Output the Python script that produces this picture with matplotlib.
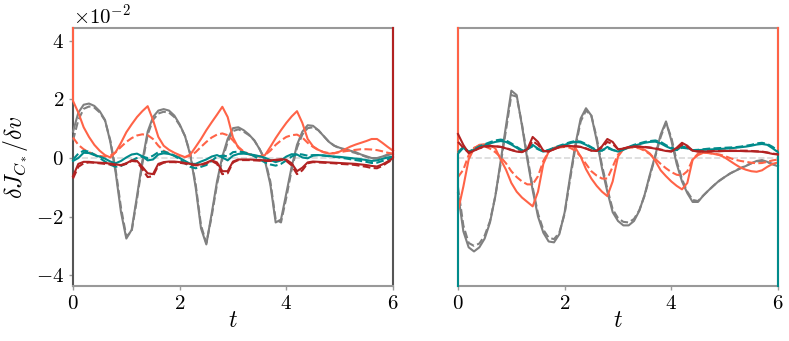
import numpy as np
import matplotlib
matplotlib.use("Agg")
import matplotlib.pyplot as plt
from matplotlib.ticker import ScalarFormatter

plt.rcParams['font.family'] = 'serif'
plt.rcParams['font.serif'] = ['cmr10', 'DejaVu Serif']
plt.rcParams['mathtext.fontset'] = 'cm'
plt.rcParams['axes.formatter.use_mathtext'] = True
plt.rcParams['axes.unicode_minus'] = True

# time grid (t = 0 .. 6, step 0.1)
T = np.linspace(0, 6, 61)
SCALE = 1e-2  # values below are in units of 1e-2

# ---------------- left panel ----------------
gray_L_solid = [0.9, 1.55, 1.82, 1.86, 1.78, 1.6, 1.3, 0.55, -0.5, -1.85,
                -2.75, -2.45, -1.3, -0.1, 0.9, 1.4, 1.62, 1.67, 1.62, 1.45,
                1.15, 0.75, 0.1, -1.0, -2.4, -2.95, -1.9, -0.8, 0.05, 0.65,
                1.02, 1.05, 0.95, 0.8, 0.6, 0.3, -0.1, -0.9, -2.2, -2.1,
                -1.2, -0.3, 0.45, 0.9, 1.12, 1.1, 0.95, 0.75, 0.55, 0.42,
                0.35, 0.3, 0.25, 0.2, 0.12, 0.06, 0.0, 0.0, 0.05, 0.12, 0.15]
gray_L_dash = [0.6, 1.3, 1.68, 1.76, 1.72, 1.56, 1.28, 0.6, -0.4, -1.7,
               -2.68, -2.5, -1.4, -0.2, 0.8, 1.3, 1.52, 1.58, 1.55, 1.4,
               1.12, 0.75, 0.15, -0.9, -2.3, -2.9, -2.0, -0.9, -0.05, 0.55,
               0.92, 0.98, 0.9, 0.78, 0.6, 0.3, -0.05, -0.8, -2.1, -2.2,
               -1.35, -0.4, 0.35, 0.8, 1.02, 1.05, 0.95, 0.75, 0.55, 0.42,
               0.33, 0.27, 0.22, 0.17, 0.1, 0.04, -0.02, -0.02, 0.03, 0.1, 0.15]
coral_L_solid = [1.95, 1.55, 1.05, 0.72, 0.45, 0.25, 0.1, 0.02, 0.2, 0.52,
                 0.88, 1.15, 1.4, 1.6, 1.77, 1.3, 0.72, 0.42, 0.28, 0.18,
                 0.1, 0.03, 0.12, 0.38, 0.65, 0.95, 1.22, 1.48, 1.75, 1.4,
                 0.7, 0.35, 0.2, 0.13, 0.08, 0.05, 0.1, 0.38, 0.68, 0.95,
                 1.2, 1.42, 1.6, 1.2, 0.65, 0.4, 0.28, 0.2, 0.15, 0.16,
                 0.22, 0.3, 0.39, 0.46, 0.52, 0.58, 0.65, 0.65, 0.52, 0.38, 0.25]
coral_L_dash = [0.7, 0.45, 0.3, 0.2, 0.12, 0.07, 0.05, 0.08, 0.2, 0.38,
                0.55, 0.68, 0.77, 0.81, 0.78, 0.65, 0.42, 0.25, 0.15, 0.08,
                0.04, 0.03, 0.08, 0.2, 0.38, 0.55, 0.7, 0.8, 0.84, 0.78,
                0.6, 0.38, 0.22, 0.13, 0.08, 0.06, 0.1, 0.25, 0.45, 0.6,
                0.72, 0.78, 0.8, 0.7, 0.52, 0.38, 0.27, 0.2, 0.17, 0.17,
                0.2, 0.23, 0.26, 0.28, 0.3, 0.3, 0.29, 0.27, 0.23, 0.18, 0.15]
teal_L_solid = [-0.1, 0.0, 0.18, 0.17, 0.1, 0.05, -0.02, -0.12, -0.18, -0.1,
                0.02, 0.12, 0.15, 0.06, -0.08, -0.05, 0.12, 0.16, 0.14, 0.08,
                0.0, -0.1, -0.2, -0.2, -0.12, -0.05, 0.05, 0.1, 0.02, -0.08,
                0.08, 0.14, 0.15, 0.13, 0.1, 0.06, 0.01, -0.07, -0.14, -0.08,
                0.05, 0.13, 0.12, 0.02, -0.01, 0.08, 0.1, 0.09, 0.07, 0.05,
                0.04, 0.02, 0.0, -0.02, -0.04, -0.07, -0.1, -0.08, -0.03, 0.02, 0.05]
teal_L_dash = [-0.05, 0.15, 0.25, 0.22, 0.12, 0.0, -0.12, -0.23, -0.3, -0.27,
               -0.18, -0.08, 0.0, 0.05, 0.0, 0.08, 0.2, 0.22, 0.17, 0.08,
               -0.05, -0.18, -0.3, -0.35, -0.3, -0.24, -0.1, 0.05, 0.08, 0.06,
               0.2, 0.22, 0.2, 0.15, 0.06, -0.05, -0.15, -0.22, -0.26, -0.2,
               -0.08, 0.05, 0.14, 0.12, 0.08, 0.1, 0.1, 0.08, 0.06, 0.04,
               0.02, -0.01, -0.04, -0.07, -0.1, -0.13, -0.17, -0.16, -0.1, -0.04, 0.0]
red_L_solid = [-0.62, -0.2, -0.13, -0.13, -0.15, -0.16, -0.17, -0.19, -0.22, -0.24,
               -0.18, -0.08, -0.1, -0.3, -0.52, -0.55, -0.2, -0.14, -0.12, -0.12,
               -0.14, -0.17, -0.2, -0.23, -0.22, -0.16, -0.08, -0.15, -0.45, -0.45,
               -0.12, -0.05, -0.05, -0.05, -0.06, -0.07, -0.08, -0.08, -0.06, -0.04,
               -0.06, -0.18, -0.45, -0.33, -0.15, -0.12, -0.13, -0.14, -0.15, -0.16,
               -0.17, -0.18, -0.19, -0.2, -0.22, -0.24, -0.27, -0.29, -0.22, -0.12, -0.01]
red_L_dash = [-0.7, -0.3, -0.18, -0.15, -0.16, -0.18, -0.2, -0.22, -0.24, -0.25,
              -0.2, -0.1, -0.12, -0.38, -0.65, -0.62, -0.25, -0.16, -0.14, -0.14,
              -0.16, -0.19, -0.22, -0.25, -0.24, -0.18, -0.1, -0.2, -0.55, -0.52,
              -0.15, -0.07, -0.07, -0.07, -0.08, -0.09, -0.1, -0.1, -0.08, -0.06,
              -0.1, -0.25, -0.55, -0.42, -0.18, -0.14, -0.15, -0.16, -0.17, -0.18,
              -0.2, -0.21, -0.22, -0.24, -0.27, -0.3, -0.34, -0.35, -0.27, -0.15, -0.05]

# ---------------- right panel ----------------
gray_R_solid = [-1.2, -2.5, -3.05, -3.19, -3.05, -2.75, -2.2, -1.3, -0.1, 1.1,
                2.3, 2.15, 1.1, -0.05, -1.1, -2.0, -2.55, -2.85, -2.88, -2.6,
                -1.85, -0.65, 0.45, 1.35, 1.7, 1.45, 0.61, -0.35, -1.15, -1.85,
                -2.15, -2.3, -2.3, -2.15, -1.8, -1.25, -0.55, 0.1, 0.8, 1.25,
                0.6, -0.2, -0.8, -1.2, -1.5, -1.5, -1.28, -1.1, -0.93, -0.77,
                -0.65, -0.53, -0.44, -0.35, -0.27, -0.18, -0.1, -0.07, -0.13, -0.22, -0.28]
gray_R_dash = [-1.0, -2.3, -2.9, -3.0, -2.92, -2.65, -2.15, -1.3, -0.2, 0.95,
               2.15, 2.1, 1.15, 0.05, -1.0, -1.9, -2.45, -2.72, -2.77, -2.55,
               -1.9, -0.75, 0.35, 1.25, 1.62, 1.45, 0.7, -0.25, -1.05, -1.75,
               -2.05, -2.18, -2.2, -2.08, -1.78, -1.28, -0.6, 0.05, 0.72, 1.2,
               0.7, -0.1, -0.72, -1.15, -1.43, -1.47, -1.28, -1.1, -0.93, -0.78,
               -0.65, -0.53, -0.43, -0.34, -0.26, -0.18, -0.12, -0.1, -0.14, -0.2, -0.25]
coral_R_solid = [-1.8, -0.98, -0.05, 0.33, 0.45, 0.47, 0.44, 0.33, -0.05, -0.4,
                 -0.85, -1.15, -1.35, -1.5, -1.65, -1.15, -0.2, 0.22, 0.35, 0.4,
                 0.44, 0.42, 0.35, 0.05, -0.38, -0.7, -0.95, -1.15, -1.3, -0.8,
                 0.05, 0.3, 0.37, 0.39, 0.36, 0.28, 0.15, -0.1, -0.42, -0.62,
                 -0.8, -0.95, -1.07, -0.85, -0.05, 0.1, 0.18, 0.17, 0.14, 0.1,
                 0.02, -0.1, -0.22, -0.33, -0.4, -0.45, -0.47, -0.42, -0.3, -0.2, -0.15]
coral_R_dash = [-0.65, -0.4, 0.1, 0.35, 0.42, 0.4, 0.32, 0.2, 0.03, -0.18,
                -0.45, -0.65, -0.8, -0.9, -0.9, -0.62, -0.1, 0.22, 0.32, 0.36,
                0.38, 0.35, 0.25, 0.05, -0.2, -0.45, -0.6, -0.7, -0.7, -0.3,
                0.12, 0.3, 0.35, 0.36, 0.33, 0.25, 0.13, -0.03, -0.2, -0.35,
                -0.48, -0.57, -0.6, -0.45, -0.05, 0.15, 0.18, 0.17, 0.15, 0.12,
                0.07, 0.0, -0.06, -0.1, -0.13, -0.16, -0.18, -0.17, -0.13, -0.08, -0.05]
teal_R_solid = [0.15, 0.35, 0.2, 0.28, 0.36, 0.43, 0.5, 0.55, 0.58, 0.55,
                0.46, 0.35, 0.24, 0.3, 0.45, 0.32, 0.22, 0.26, 0.33, 0.39,
                0.45, 0.51, 0.55, 0.53, 0.45, 0.35, 0.25, 0.25, 0.38, 0.28,
                0.22, 0.28, 0.36, 0.42, 0.47, 0.52, 0.55, 0.56, 0.5, 0.4,
                0.32, 0.27, 0.4, 0.35, 0.26, 0.27, 0.28, 0.29, 0.3, 0.31,
                0.32, 0.33, 0.35, 0.37, 0.39, 0.42, 0.46, 0.48, 0.45, 0.33, 0.2]
teal_R_dash = [0.2, 0.38, 0.22, 0.3, 0.4, 0.47, 0.54, 0.6, 0.63, 0.6,
               0.5, 0.38, 0.27, 0.3, 0.4, 0.3, 0.22, 0.28, 0.35, 0.42,
               0.48, 0.54, 0.58, 0.56, 0.48, 0.37, 0.27, 0.26, 0.34, 0.27,
               0.24, 0.3, 0.38, 0.45, 0.5, 0.55, 0.58, 0.6, 0.55, 0.44,
               0.35, 0.28, 0.35, 0.33, 0.27, 0.28, 0.3, 0.32, 0.33, 0.34,
               0.35, 0.36, 0.37, 0.39, 0.42, 0.45, 0.5, 0.52, 0.48, 0.38, 0.25]
red_R_solid = [0.82, 0.45, 0.17, 0.25, 0.35, 0.4, 0.41, 0.4, 0.38, 0.33,
               0.27, 0.22, 0.2, 0.3, 0.72, 0.55, 0.25, 0.22, 0.3, 0.38,
               0.41, 0.41, 0.4, 0.38, 0.32, 0.25, 0.24, 0.4, 0.65, 0.55,
               0.3, 0.32, 0.37, 0.39, 0.39, 0.37, 0.35, 0.32, 0.28, 0.24,
               0.22, 0.35, 0.52, 0.42, 0.25, 0.22, 0.22, 0.22, 0.23, 0.23,
               0.24, 0.24, 0.24, 0.24, 0.23, 0.23, 0.22, 0.21, 0.18, 0.14, 0.12]
red_R_dash = [0.55, 0.35, 0.18, 0.25, 0.33, 0.38, 0.4, 0.4, 0.38, 0.34,
              0.28, 0.23, 0.21, 0.28, 0.58, 0.45, 0.24, 0.23, 0.3, 0.37,
              0.4, 0.41, 0.4, 0.38, 0.33, 0.26, 0.25, 0.36, 0.55, 0.48,
              0.3, 0.33, 0.37, 0.39, 0.39, 0.38, 0.36, 0.33, 0.29, 0.25,
              0.23, 0.32, 0.45, 0.38, 0.25, 0.23, 0.23, 0.23, 0.24, 0.24,
              0.25, 0.25, 0.25, 0.25, 0.25, 0.24, 0.23, 0.22, 0.19, 0.15, 0.13]

# boundary spikes (values at the end points that leave the plotted range)
BIG = 10.0
left_spikes = {'coral_s': (BIG, None), 'red_s': (None, BIG)}
right_spikes = {'coral_s': (BIG, BIG), 'teal_s': (-BIG, -BIG)}

xticks = [0, 2, 4, 6]
yticks = [-4, -2, 0, 2, 4]
YLIM = (-4.37e-2, 4.44e-2)

GRAY = '#808080'
CORAL = '#FF6347'
TEAL = '#008B8B'
RED = '#B22222'
SPINE = '#999999'

W, H = 789, 341
fig = plt.figure(figsize=(W / 100, H / 100), dpi=100)
axL = fig.add_axes([73 / W, 1 - 286 / H, 320 / W, 258 / H])
axR = fig.add_axes([458 / W, 1 - 286 / H, 320 / W, 258 / H])


def series(vals, spike):
    t = list(T)
    v = [x * SCALE for x in vals]
    if spike is not None:
        s0, s1 = spike
        if s0 is not None:
            t = [0.0] + t
            v = [s0 * SCALE] + v
        if s1 is not None:
            t = t + [6.0]
            v = v + [s1 * SCALE]
    return t, np.clip(v, YLIM[0], YLIM[1])


def draw(ax, data, spikes):
    ax.axhline(0, color='#d9d9d9', lw=1.2, ls='--', zorder=1)
    for key, vals, color, ls in data:
        t, v = series(vals, spikes.get(key))
        ax.plot(t, v, color=color, ls=ls, lw=1.5, zorder=3, clip_on=False)


draw(axL, [
    ('gray_s', gray_L_solid, GRAY, '-'), ('gray_d', gray_L_dash, GRAY, '--'),
    ('coral_s', coral_L_solid, CORAL, '-'), ('coral_d', coral_L_dash, CORAL, '--'),
    ('teal_s', teal_L_solid, TEAL, '-'), ('teal_d', teal_L_dash, TEAL, '--'),
    ('red_s', red_L_solid, RED, '-'), ('red_d', red_L_dash, RED, '--'),
], left_spikes)
draw(axR, [
    ('gray_s', gray_R_solid, GRAY, '-'), ('gray_d', gray_R_dash, GRAY, '--'),
    ('coral_s', coral_R_solid, CORAL, '-'), ('coral_d', coral_R_dash, CORAL, '--'),
    ('teal_s', teal_R_solid, TEAL, '-'), ('teal_d', teal_R_dash, TEAL, '--'),
    ('red_s', red_R_solid, RED, '-'), ('red_d', red_R_dash, RED, '--'),
], right_spikes)

for ax in (axL, axR):
    ax.set_xlim(0, 6)
    ax.set_ylim(*YLIM)
    ax.set_xticks(xticks)
    for s in ax.spines.values():
        s.set_color(SPINE)
        s.set_linewidth(1.5)
        s.set_zorder(2)
    ax.tick_params(axis='both', labelsize=15, color=SPINE, length=3, width=1)
    ax.set_xlabel(r'$t$', fontsize=17, labelpad=-2)

axL.spines['left'].set_color('#555555')
axL.spines['right'].set_color('#555555')

axL.set_yticks([v * SCALE for v in yticks])
fmt = ScalarFormatter(useMathText=True)
fmt.set_powerlimits((-1, 1))
axL.yaxis.set_major_formatter(fmt)
axL.yaxis.get_offset_text().set_fontsize(15)
axL.set_ylabel(r'$\delta J_{C_*}/\delta v$', fontsize=17, labelpad=4)

axR.set_yticks([])

fig.savefig('out.png', dpi=100)
